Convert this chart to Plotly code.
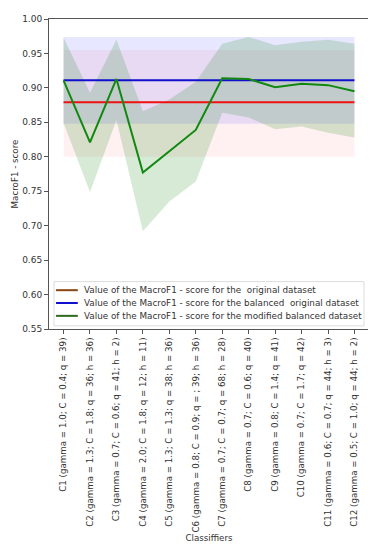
import plotly.graph_objects as go

classifiers = [
    "C1 (gamma = 1.0; C = 0.4; q = 39)",
    "C2 (gamma = 1.3; C = 1.8; q = 36; h = 36)",
    "C3 (gamma = 0.7; C = 0.6; q = 41; h = 2)",
    "C4 (gamma = 2.0; C = 1.8; q = 12; h = 11)",
    "C5 (gamma = 1.3; C = 1.3; q = 38; h = 36)",
    "C6 (gamma = 0.8; C = 0.9; q = ; 39; h = 36)",
    "C7 (gamma = 0.7; C = 0.7; q = 68; h = 28)",
    "C8 (gamma = 0.7; C = 0.6; q = 40)",
    "C9 (gamma = 0.8; C = 1.4; q = 41)",
    "C10 (gamma = 0.7; C = 1.7; q = 42)",
    "C11 (gamma = 0.6; C = 0.7; q = 44; h = 3)",
    "C12 (gamma = 0.5; C = 1.0; q = 44; h = 2)",
]

original_score = 0.879
original_low = 0.800
original_high = 0.955

balanced_score = 0.911
balanced_low = 0.848
balanced_high = 0.974

modified_score = [0.911, 0.821, 0.913, 0.777, 0.808, 0.839, 0.914, 0.913, 0.901, 0.906, 0.904, 0.895]
modified_high = [0.973, 0.893, 0.970, 0.866, 0.883, 0.909, 0.964, 0.974, 0.962, 0.967, 0.970, 0.964]
modified_low = [0.849, 0.749, 0.853, 0.692, 0.735, 0.764, 0.864, 0.857, 0.840, 0.844, 0.835, 0.828]

legend_names = [
    "Value of the MacroF1 - score for the  original dataset",
    "Value of the MacroF1 - score for the balanced  original dataset",
    "Value of the MacroF1 - score for the modified balanced dataset",
]
legend_colors = ["#8b4513", "#1010cc", "#2e6b1e"]

n = len(classifiers)
idx = list(range(n))
fig = go.Figure()

# bands
fig.add_trace(go.Scatter(x=idx + idx[::-1], y=[original_high] * n + [original_low] * n,
                         fill="toself", fillcolor="rgba(255,120,120,0.10)", line=dict(width=0),
                         mode="lines", showlegend=False, hoverinfo="skip"))
fig.add_trace(go.Scatter(x=idx + idx[::-1], y=[balanced_high] * n + [balanced_low] * n,
                         fill="toself", fillcolor="rgba(60,60,255,0.12)", line=dict(width=0),
                         mode="lines", showlegend=False, hoverinfo="skip"))
fig.add_trace(go.Scatter(x=idx + idx[::-1], y=modified_high + modified_low[::-1],
                         fill="toself", fillcolor="rgba(30,140,30,0.18)", line=dict(width=0),
                         mode="lines", showlegend=False, hoverinfo="skip"))

# lines
fig.add_trace(go.Scatter(x=idx, y=[original_score] * n, mode="lines",
                         line=dict(color="#ee1111", width=2), showlegend=False))
fig.add_trace(go.Scatter(x=idx, y=[balanced_score] * n, mode="lines",
                         line=dict(color="#1010cc", width=2), showlegend=False))
fig.add_trace(go.Scatter(x=idx, y=modified_score, mode="lines",
                         line=dict(color="#118811", width=2), showlegend=False))

# compact legend drawn in paper coordinates (matplotlib-like)
shapes = [dict(type="rect", xref="paper", yref="paper", x0=0.0155, x1=0.9845, y0=0.01, y1=0.153,
               line=dict(color="#dddddd", width=1), fillcolor="rgba(255,255,255,0.85)", layer="above")]
annotations = []
legend_y = [0.1252, 0.0838, 0.0424]
for name, col, yy in zip(legend_names, legend_colors, legend_y):
    shapes.append(dict(type="line", xref="paper", yref="paper", x0=0.022, x1=0.09, y0=yy, y1=yy,
                       line=dict(color=col, width=2), layer="above"))
    annotations.append(dict(text=name, xref="paper", yref="paper", x=0.103, y=yy,
                            xanchor="left", yanchor="middle", showarrow=False,
                            font=dict(size=8.8, color="#333")))

fig.update_layout(
    width=368, height=542,
    margin=dict(l=40, r=6, t=7, b=221),
    paper_bgcolor="white", plot_bgcolor="white",
    font=dict(family="DejaVu Sans", size=8, color="#333"),
    showlegend=False,
    shapes=shapes, annotations=annotations,
    xaxis=dict(
        tickmode="array", tickvals=idx, ticktext=classifiers, tickangle=-90,
        range=[-0.55, n - 1 + 0.55], showgrid=False, zeroline=False,
        showline=True, linecolor="#555", mirror=True, ticks="outside", ticklen=4,
        tickcolor="#555", tickfont=dict(size=8.7),
        title=dict(text="Classiffiers", font=dict(size=8.7), standoff=3),
    ),
    yaxis=dict(
        range=[0.55, 1.00], dtick=0.05, tickformat=".2f", showgrid=False, zeroline=False,
        showline=True, linecolor="#555", mirror=True, ticks="outside", ticklen=4,
        tickcolor="#555", tickfont=dict(size=9),
        title=dict(text="MacroF1 - score", font=dict(size=8.7), standoff=2),
    ),
)

fig.write_html("out.html")
